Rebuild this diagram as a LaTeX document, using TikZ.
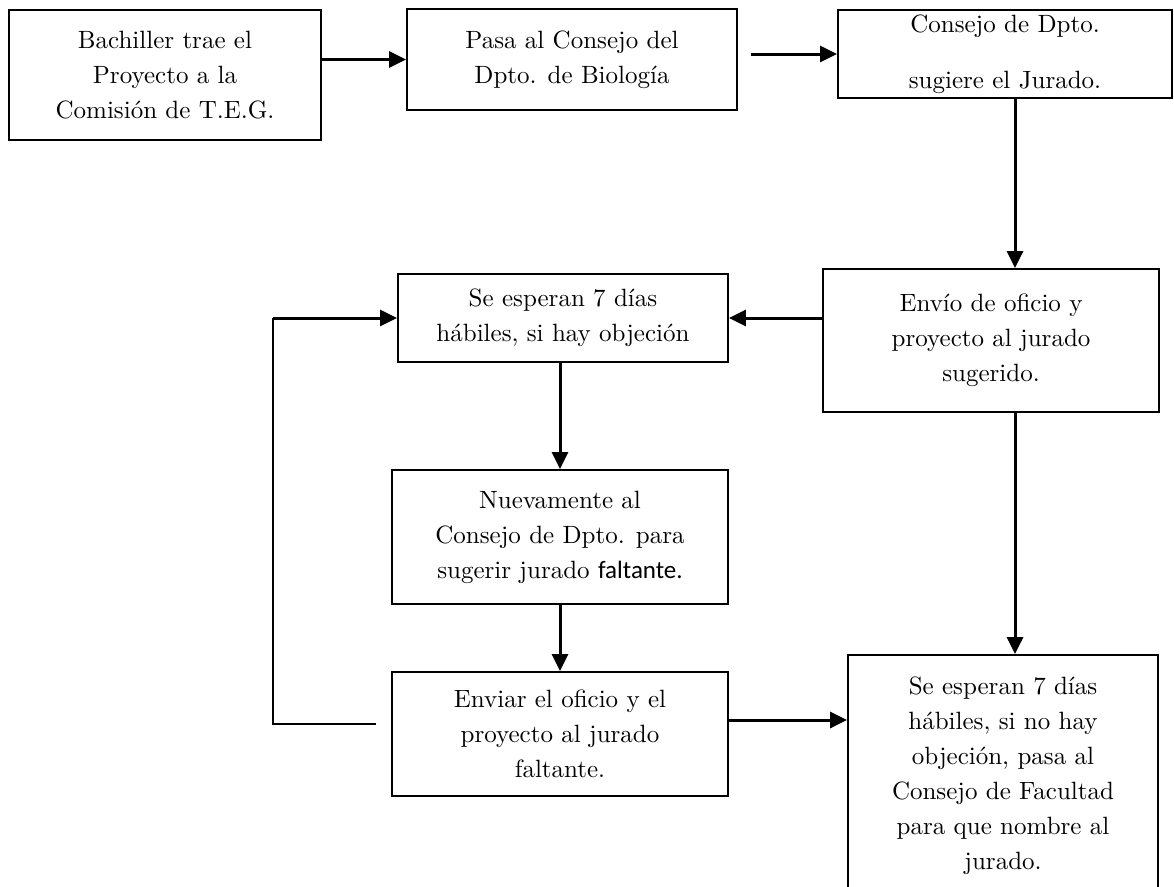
\documentclass[tikz,border=0pt]{standalone}
\usepackage{fontspec}
\setmainfont{lmroman10-regular}[Extension=.otf]
\newfontfamily\calibri{Carlito}
\usetikzlibrary{arrows.meta}

\tikzset{
  caja/.style={draw, line width=1.8pt, align=center, inner sep=0pt,
    font=\fontsize{25}{35}\selectfont},
  flecha/.style={line width=3pt, -{Triangle[length=17pt,width=16pt]}},
  linea/.style={line width=1.8pt}
}

\begin{document}
\begin{tikzpicture}[x=1pt,y=-1pt]
%\draw[help lines] (0,0) grid (1174,886);
\useasboundingbox (0,0) rectangle (1174,886);

% fila de arriba
\node[caja,minimum width=312pt,minimum height=130pt] at (165,75) (bach) {Bachiller trae el\\Proyecto a la\\Comisión de T.E.G.};
\node[caja,minimum width=330pt,minimum height=101pt] at (572,59.5) (pasa) {Pasa al Consejo del\\Dpto. de Biología};
\node[caja,minimum width=334pt,minimum height=88pt] at (1005,54) (sugiere) {Consejo de Dpto.\\[21pt]sugiere el Jurado.};

% lado derecho
\node[caja,minimum width=336pt,minimum height=143pt] at (991,340.5) (envio) {Envío de oficio y\\proyecto al jurado\\sugerido.};
\node[caja,minimum width=310pt,minimum height=242pt] at (1003,776) (nombra) {Se esperan 7 días\\hábiles, si no hay\\objeción, pasa al\\Consejo de Facultad\\para que nombre al\\jurado.};

% columna del medio
\node[caja,minimum width=330pt,minimum height=88pt] at (563,318) (espera) {Se esperan 7 días\\hábiles, si hay objeción};
\node[caja,minimum width=336pt,minimum height=134pt] at (560,537) (nuevo) {Nuevamente al\\Consejo de Dpto. para\\sugerir jurado {\calibri faltante.}};
\node[caja,minimum width=336pt,minimum height=124pt] at (560,734) (enviar) {Enviar el oficio y el\\proyecto al jurado\\faltante.};

\draw[flecha] (bach.east |- pasa.west) -- (pasa.west);
\draw[flecha] ([xshift=13pt]pasa.east |- sugiere.west) -- (sugiere.west);
\draw[flecha] ([xshift=10pt]sugiere.south) -- ([xshift=10pt]sugiere.south |- envio.north);
\draw[flecha] (envio.west |- espera.east) -- (espera.east);
\draw[flecha] ([xshift=24pt]envio.south) -- ([xshift=24pt]envio.south |- nombra.north);
\draw[flecha] (espera.south -| nuevo.north) -- (nuevo.north);
\draw[flecha] (nuevo.south) -- (enviar.north);
\draw[flecha] ([yshift=14pt]enviar.east) -- ([yshift=14pt]enviar.east -| nombra.west);

% vuelta hacia atras
\coordinate (vuelta) at (273,724);
\draw[linea] ([xshift=-15pt,yshift=10pt]enviar.west) -- (vuelta) -- (vuelta |- espera.west);
\draw[flecha] (vuelta |- espera.west) -- (espera.west);

\end{tikzpicture}
\end{document}
